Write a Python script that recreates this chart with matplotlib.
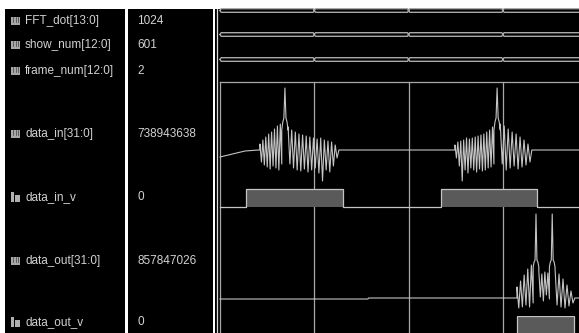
import numpy as np
import matplotlib
matplotlib.use("Agg")
import matplotlib.pyplot as plt
from matplotlib.patches import Rectangle

W, H = 579, 333
BG, INK, WAVE, GRID, FILL = "#000000", "#d2d2d2", "#c4c4c4", "#a8a8a8", "#5a5a5a"
plt.rcParams.update({"font.family": ["Liberation Sans", "DejaVu Sans"]})

# signal list (name, current value, is_bus)
names = ["FFT_dot[13:0]", "show_num[12:0]", "frame_num[12:0]", "data_in[31:0]",
         "data_in_v", "data_out[31:0]", "data_out_v"]
values = ["1024", "601", "2", "738943638", "0", "857847026", "0"]
is_bus = [True, True, True, True, False, True, False]

# time base (us); cursors / bus transitions
cursor_t = [0.0, 1.0, 2.0, 3.0]
bus_edges = [0.0, 1.0, 2.0, 3.0, 4.2]

# data_in analog trace: ramp, spike bursts, flat (amplitude in display units)
in_lead_t = [0.0, 0.265, 0.405]
in_lead_v = [25, 31, 32]
burst1_left_top = [38, 42, 45, 48, 50, 53, 56, 58]
burst1_left_bot = [20, 17, 15, 13, 16, 14, 12, 18]
burst1_peak = [52, 60, 64, 94, 64, 60, 52]
burst1_right_top = [55, 52, 50, 48, 47, 46, 45, 44, 43, 44, 42, 41, 40, 37]
burst1_right_bot = [18, 14, 12, 11, 13, 10, 12, 14, 9, 1, 12, 10, 16, 24]
burst2_left_top = [37, 40, 41, 42, 44, 43, 44, 45, 46, 47, 48, 50, 52, 55]
burst2_left_bot = [24, 16, 1, 12, 9, 14, 12, 10, 13, 11, 12, 14, 15, 18]
burst2_peak = [52, 60, 64, 94, 64, 60, 52]
burst2_right_top = [58, 56, 53, 50, 48, 45, 42, 38]
burst2_right_bot = [18, 12, 14, 16, 13, 15, 17, 20]
in_spans = [(0.424, 0.655, 0.722, 1.241), (2.492, 2.905, 2.972, 3.287)]
in_tail_t = [4.2]
in_base = 32

# data_out analog trace
out_lead_t = [0.0, 1.569, 1.575, 3.149]
out_lead_v = [8, 8, 9, 9]
out_a_top = [20, 26, 32, 38, 42]
out_a_bot = [-1, 0, 2, 0, 4]
out_peak = [40, 45, 47, 93, 47, 45, 40]
out_b_top = [36, 33, 35, 34]
out_b_bot = [10, 6, 12, 8]
out_c_top = [38, 33, 28, 22, 16]
out_c_bot = [2, 0, -1, 1, 4]
out_spans = [(3.149, 3.321, 3.381, 3.493, 3.553, 3.743)]
out_tail_v = 9

# valid strobes (high intervals)
in_v_high = [(0.276, 1.304), (2.344, 3.362)]
out_v_high = [(3.149, 3.754)]

T0, PX_PER_T = 220.0, 94.3           # x pixel of t=0, pixels per us
T_MIN = (215 - T0) / PX_PER_T
T_MAX = (W - T0) / PX_PER_T


def box(x0, y0, x1, y1):
    return [x0 / W, 1 - y1 / H, (x1 - x0) / W, (y1 - y0) / H]


def zigzag(t0, t1, tops, bots):
    ts = np.linspace(t0, t1, 2 * len(tops))
    vs = np.ravel(np.column_stack([tops, bots]))
    return list(ts), list(vs)


def peak(t0, t1, vals):
    return list(np.linspace(t0, t1, len(vals))), list(vals)


fig = plt.figure(figsize=(W / 100, H / 100), dpi=100)
fig.patch.set_facecolor("white")

# name and value columns
ax_n = fig.add_axes(box(5, 9, 125, H)); ax_v = fig.add_axes(box(128, 9, 213, H))
for ax, x0, x1 in ((ax_n, 5, 125), (ax_v, 128, 213)):
    ax.set_facecolor(BG); ax.set_xlim(x0, x1); ax.set_ylim(H, 9)
    ax.set_xticks([]); ax.set_yticks([])
    for s in ax.spines.values():
        s.set_visible(False)

row_y = [21, 45, 71, 134, 197, 261, 322]
for nm, val, bus, y in zip(names, values, is_bus, row_y):
    if bus:
        ax_n.add_patch(Rectangle((11, y - 4.5), 9, 8.5, fc="#a8a8a8", ec="none"))
        for xs in (13.3, 15.5, 17.7):
            ax_n.plot([xs, xs], [y - 4.5, y + 0.5], color="#404040", lw=0.5)
    else:
        ax_n.add_patch(Rectangle((11, y - 5), 2.8, 9.5, fc="#b0b0b0", ec="none"))
        ax_n.add_patch(Rectangle((15, y - 2.5), 4.5, 7, fc="#b0b0b0", ec="none"))
    ax_n.text(25, y, nm, color=INK, fontsize=8.5, va="center", ha="left")
    ax_v.text(137, y, val, color=INK, fontsize=8.5, va="center", ha="left")

# waveform pane
ax_w = fig.add_axes(box(215, 9, W, H)); ax_w.set_facecolor(BG)
ax_w.set_xlim(T_MIN, T_MAX); ax_w.set_ylim(H, 9); ax_w.axis("off")
ax_w.add_patch(Rectangle((0, 0), 1, 1, transform=ax_w.transAxes, fc=BG, ec="none", zorder=0))
fig.add_artist(plt.Line2D([216.8 / W] * 2, [0, 1 - 9 / H], color="#d8d8d8", lw=0.9))
ax_w.plot([0, T_MAX], [82, 82], color=GRID, lw=0.9)
for t in cursor_t:
    ax_w.plot([t, t], [82, H], color=GRID, lw=0.9)


def row_axes(y0, y1, ylim):
    ax = fig.add_axes(box(215, y0, W, y1))
    ax.set_xlim(T_MIN, T_MAX); ax.set_ylim(*ylim); ax.axis("off")
    ax.patch.set_alpha(0)
    return ax


# buses
d = 0.012
for yc in (10.5, 34.5, 59.5):
    ax = row_axes(yc - 1.8, yc + 1.8, (-1, 1))
    for a, b in zip(bus_edges[:-1], bus_edges[1:]):
        ax.plot([a, a + d, b - d, b, b - d, a + d, a], [0, 1, 1, 0, -1, -1, 0],
                color="#a8a8a8", lw=1.0, clip_on=False)

# data_in
ax = row_axes(82, 182, (0, 100))
tt, vv = list(in_lead_t), list(in_lead_v)
for (a, b, c, e), lt, lb, pk, rt, rb in (
        (in_spans[0], burst1_left_top, burst1_left_bot, burst1_peak, burst1_right_top, burst1_right_bot),
        (in_spans[1], burst2_left_top, burst2_left_bot, burst2_peak, burst2_right_top, burst2_right_bot)):
    if a > tt[-1] + 0.01:
        tt += [a]; vv += [in_base]
    for seg in (zigzag(a, b, lt, lb), peak(b, c, pk), zigzag(c, e, rt, rb)):
        tt += seg[0]; vv += seg[1]
    tt += [e + 0.02]; vv += [in_base]
tt += in_tail_t; vv += [in_base]
ax.plot(tt, vv, color=WAVE, lw=0.8, clip_on=False)

# data_in_v
ax = row_axes(189, 207, (0, 1))
for a, b in in_v_high:
    ax.add_patch(Rectangle((a, 0), b - a, 1, fc=FILL, ec="none"))
st = [T_MIN + 0.05]; sv = [0]
for a, b in in_v_high:
    st += [a, a, b, b]; sv += [0, 1, 1, 0]
st += [T_MAX]; sv += [0]
ax.plot(st, sv, color=WAVE, lw=0.9, clip_on=False)

# data_out
ax = row_axes(207, 307, (0, 100))
tt, vv = list(out_lead_t), list(out_lead_v)
s = out_spans[0]
for seg in (zigzag(s[0], s[1], out_a_top, out_a_bot), peak(s[1], s[2], out_peak),
            zigzag(s[2], s[3], out_b_top, out_b_bot), peak(s[3], s[4], out_peak),
            zigzag(s[4], s[5], out_c_top, out_c_bot)):
    tt += seg[0]; vv += seg[1]
tt += [s[5] + 0.02, T_MAX]; vv += [out_tail_v, out_tail_v]
ax.plot(tt, vv, color=WAVE, lw=0.8, clip_on=False)

# data_out_v
ax = row_axes(316, 334, (0, 1))
for a, b in out_v_high:
    ax.add_patch(Rectangle((a, 0), b - a, 1, fc=FILL, ec=WAVE, lw=0.9))

fig.savefig("out.png", dpi=100, facecolor="white")
